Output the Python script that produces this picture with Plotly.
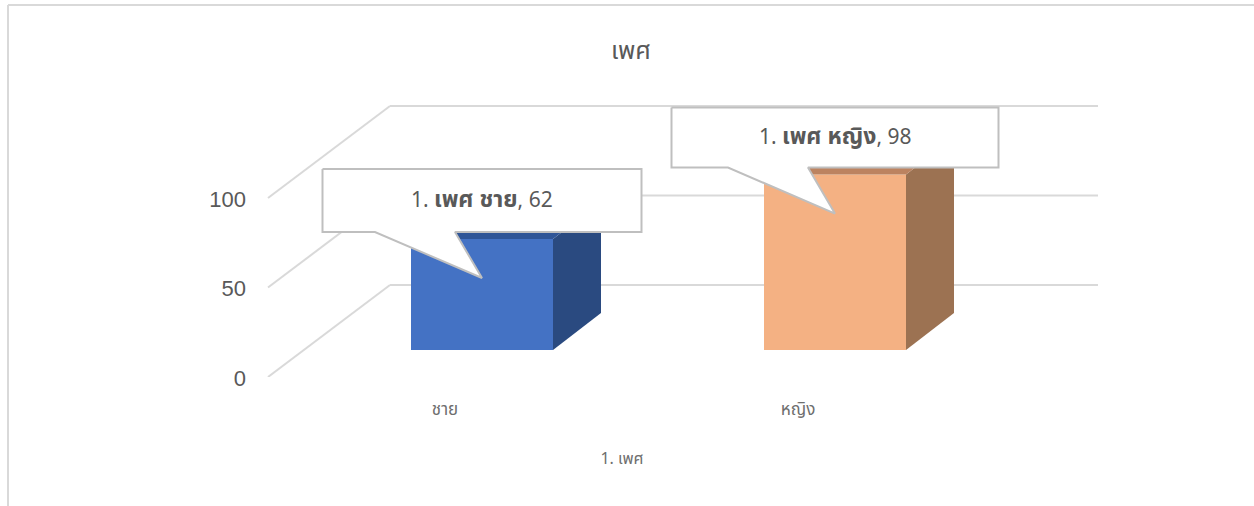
import plotly.graph_objects as go

# ---- data ----
categories = ["ชาย", "หญิง"]
values = [62, 98]
callout_names = ["เพศ ชาย", "เพศ หญิง"]
callout_prefix = "1."
y_ticks = [0, 50, 100]
chart_title = "เพศ"
axis_title = "1. เพศ"

# ---- scale of the drawing ----
W, H = 1254, 506
PLOT_L, PLOT_R, PLOT_T, PLOT_B = 146, 1098, 80, 377
PX_PER_UNIT = 1.79
PX_PER_CAT = 353
CENTER0 = 482
u = lambda px: px / PX_PER_UNIT          # vertical px -> value units
c = lambda px: px / PX_PER_CAT           # horizontal px -> category units
BAR_W = c(142)
DX, DY = c(48), u(37)                    # bar depth
FLOOR = u(27)                            # bar front sits above the axis zero
WALL_L, WALL_CORNER = c(268 - CENTER0), c(390 - CENTER0)
WALL_DY = u(92)

FRONT = ["#4472C4", "#F4B183"]
SIDE = ["#2A4A80", "#9C7252"]
TOP = ["#2F5597", "#BC8360"]
GREY = "#595959"
FONT = "Noto Sans Thai, Liberation Sans, Arial, sans-serif"

x_pos = list(range(len(categories)))
fig = go.Figure()

fig.add_trace(go.Bar(x=x_pos, y=values, base=[FLOOR] * len(values), width=BAR_W,
                     marker=dict(color=FRONT, line=dict(width=0)), showlegend=False,
                     customdata=categories, hovertemplate="%{customdata}: %{y}<extra></extra>"))

for i, v in zip(x_pos, values):
    l, r = i - BAR_W / 2, i + BAR_W / 2
    bot, top = FLOOR, FLOOR + v
    fig.add_trace(go.Scatter(x=[r, r + DX, r + DX, r, r], y=[bot, bot + DY, top + DY, top, bot],
                             mode="lines", fill="toself", fillcolor=SIDE[i], line=dict(width=0),
                             showlegend=False, hoverinfo="skip"))
    fig.add_trace(go.Scatter(x=[l, l + DX, r + DX, r, l], y=[top, top + DY, top + DY, top, top],
                             mode="lines", fill="toself", fillcolor=TOP[i], line=dict(width=0),
                             showlegend=False, hoverinfo="skip"))

# callouts, anchored on the bar tops
HALF_W = [c(159.5), c(163.5)]
BOX_H = [u(63), u(60)]
for i, v in zip(x_pos, values):
    top = FLOOR + v
    box_b = top + u(7)
    box_t = box_b + BOX_H[i]
    tip = top - u(39)
    xs = [i - HALF_W[i], i + HALF_W[i], i + HALF_W[i], i - c(27), i, i - c(107), i - HALF_W[i], i - HALF_W[i]]
    ys = [box_t, box_t, box_b, box_b, tip, box_b, box_b, box_t]
    fig.add_trace(go.Scatter(x=xs, y=ys, mode="lines", fill="toself", fillcolor="white",
                             line=dict(color="#BFBFBF", width=2), showlegend=False, hoverinfo="skip"))
    label = f"{callout_prefix} <span style='font-size:23px'><b>{callout_names[i]}</b></span>, {v}"
    fig.add_annotation(x=i, y=(box_t + box_b) / 2 + u(1), xref="x", yref="y", text=label,
                       showarrow=False, font=dict(size=21, color=GREY, family=FONT))

# 3-D walls: gridlines drawn under the bars
shapes = []
for t in y_ticks:
    shapes.append(dict(type="line", xref="x", yref="y", layer="below", x0=WALL_L, y0=t,
                       x1=WALL_CORNER, y1=t + WALL_DY, line=dict(color="#D9D9D9", width=2)))
    shapes.append(dict(type="line", xref="x", yref="y", layer="below", x0=WALL_CORNER, y0=t + WALL_DY,
                       x1=c(PLOT_R - CENTER0), y1=t + WALL_DY, line=dict(color="#D9D9D9", width=2)))

# chart frame (top and left edge of the chart area)
px_x = lambda p: (p - PLOT_L) / (PLOT_R - PLOT_L)
px_y = lambda p: (PLOT_B - p) / (PLOT_B - PLOT_T)
shapes.append(dict(type="line", xref="paper", yref="paper", x0=px_x(8), y0=px_y(5), x1=px_x(1254), y1=px_y(5),
                   line=dict(color="#D9D9D9", width=2)))
shapes.append(dict(type="line", xref="paper", yref="paper", x0=px_x(8), y0=px_y(5), x1=px_x(8), y1=px_y(506),
                   line=dict(color="#D9D9D9", width=2)))

fig.update_layout(
    width=W, height=H,
    margin=dict(l=PLOT_L, r=W - PLOT_R, t=PLOT_T, b=H - PLOT_B, autoexpand=False),
    paper_bgcolor="white", plot_bgcolor="white",
    shapes=shapes, showlegend=False,
    title=dict(text=chart_title, x=631 / W, y=1 - 50 / H, xanchor="center", yanchor="middle",
               font=dict(size=25, color=GREY, family=FONT, weight="normal")),
    xaxis=dict(range=[c(PLOT_L - CENTER0), c(PLOT_R - CENTER0)], tickmode="array",
               tickvals=[i - c(37) for i in x_pos], ticktext=categories, showgrid=False, zeroline=False,
               showline=False, ticks="", ticklabelstandoff=20,
               tickfont=dict(size=17, color="#6E6E6E", family=FONT),
               title=dict(text=axis_title, standoff=30, font=dict(size=16, color="#6E6E6E", family=FONT))),
    yaxis=dict(range=[0, (PLOT_B - PLOT_T) / PX_PER_UNIT], tickmode="array", tickvals=y_ticks,
               anchor="free", position=(268 - PLOT_L) / (PLOT_R - PLOT_L), showgrid=False, zeroline=False,
               showline=False, ticks="", ticklabelstandoff=22, ticklabelshift=1,
               tickfont=dict(size=22, color=GREY, family="Liberation Sans, Arial, sans-serif")),
)

fig.write_html("out.html", config={"displayModeBar": False},
               post_script="document.body.style.margin='0';document.body.style.overflow='hidden';")
